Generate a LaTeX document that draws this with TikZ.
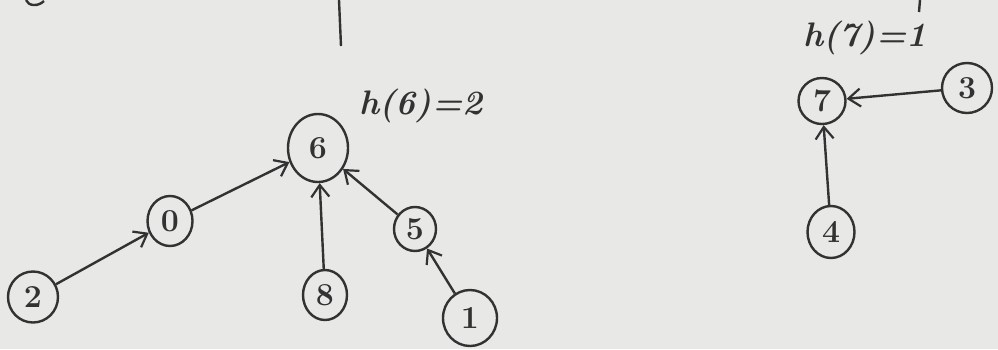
\documentclass[tikz,border=0pt]{standalone}
\usetikzlibrary{arrows.meta,shapes.geometric}
\definecolor{paper}{RGB}{232,232,230}
\definecolor{ink}{RGB}{50,50,50}
\tikzset{
  vert/.style={ellipse,draw=ink,line width=2.4pt,inner sep=0pt,text=ink,font=\bfseries\fontsize{32}{32}\selectfont},
  edge/.style={draw=ink,line width=2.4pt,-{Straight Barb[length=12pt,width=18pt,line width=2.2pt]}},
  lbl/.style={text=ink,font=\bfseries\itshape\fontsize{34}{34}\selectfont},
  pen/.style={draw=ink,line width=2.4pt}
}
\begin{document}
\begin{tikzpicture}[x=1pt,y=-1pt]
\fill[paper] (0,0) rectangle (998,349);
\useasboundingbox (0,0) rectangle (998,349);
% fragments at the top edge
\coordinate (fa) at (26,0);
\coordinate (fb) at (44,1);
\coordinate (la) at (339,0);
\coordinate (lb) at (341,46);
\coordinate (ra) at (920,0);
\coordinate (rb) at (919,12);
\draw[pen] (fa) .. controls (28,6) and (38,7) .. (fb);
\draw[pen] (la) -- (lb);
\draw[pen] (ra) -- (rb);
% left tree
\node[vert,minimum width=60pt,minimum height=68pt] (n6) at (318,148) {6};
\node[vert,minimum width=45pt,minimum height=50pt] (n0) at (170,221) {0};
\node[vert,minimum width=42pt,minimum height=44pt] (n5) at (415,229) {5};
\node[vert,minimum width=50pt,minimum height=51pt] (n2) at (33,297) {2};
\node[vert,minimum width=44pt,minimum height=50pt] (n8) at (325,295) {8};
\node[vert,minimum width=54pt,minimum height=56pt] (n1) at (470,318) {1};
\node[lbl] (h6) at (421,106) {h(6)=2};
\draw[edge] (n2) -- (n0);
\draw[edge] (n0) -- (n6);
\draw[edge] (n8) -- (n6);
\draw[edge] (n5) -- (n6);
\draw[edge] (n1) -- (n5);
% right tree
\node[vert,minimum width=47pt,minimum height=46pt] (n7) at (822,101) {7};
\node[vert,minimum width=50pt,minimum height=50pt] (n3) at (967,88) {3};
\node[vert,minimum width=47pt,minimum height=52pt] (n4) at (831,232) {4};
\node[lbl] (h7) at (865,38) {h(7)=1};
\draw[edge] (n3) -- (n7);
\draw[edge] (n4) -- (n7);
\end{tikzpicture}
\end{document}
